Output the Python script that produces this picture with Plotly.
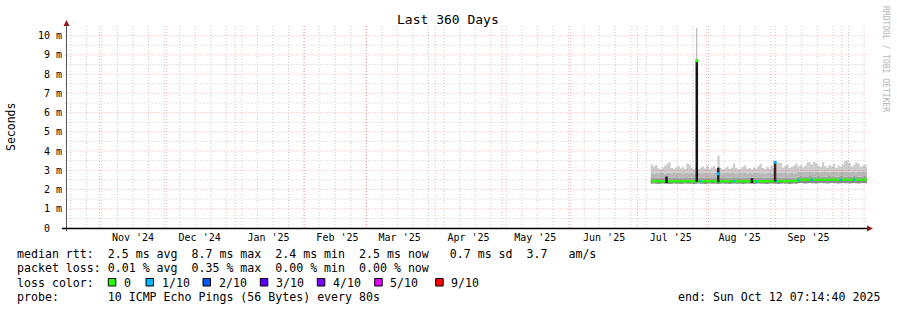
import pandas as pd
import plotly.graph_objects as go

# ---------------- data ----------------
START = "2024-10-17 07:14:40"
END = "2025-10-12 07:14:40"
FIRST_DAY = "2025-07-07"

month_labels = ["Nov '24", "Dec '24", "Jan '25", "Feb '25", "Mar '25", "Apr '25",
                "May '25", "Jun '25", "Jul '25", "Aug '25", "Sep '25"]
y_tick_values = [0, 1, 2, 3, 4, 5, 6, 7, 8, 9, 10]
y_tick_labels = ["0  ", "1 m", "2 m", "3 m", "4 m", "5 m", "6 m", "7 m", "8 m", "9 m", "10 m"]

# daily smoke percentiles (ms), Jul 7 .. Oct 12 2025
min_rtt = [2.30, 2.31, 2.30, 2.29, 2.30, 2.31, 2.30, 2.30, 2.29, 2.30,
           2.31, 2.30, 2.30, 2.29, 2.30, 2.31, 2.30, 2.30, 2.30, 2.29,
           2.30, 2.31, 2.30, 2.30, 2.29, 2.30, 2.31, 2.30, 2.30, 2.30,
           2.29, 2.30, 2.31, 2.30, 2.30, 2.29, 2.30, 2.31, 2.30, 2.30,
           2.30, 2.29, 2.30, 2.31, 2.30, 2.30, 2.29, 2.30, 2.31, 2.30,
           2.30, 2.30, 2.29, 2.30, 2.31, 2.30, 2.30, 2.29, 2.30, 2.31,
           2.30, 2.30, 2.29, 2.30, 2.31, 2.30, 2.33, 2.34, 2.33, 2.32,
           2.33, 2.34, 2.33, 2.33, 2.32, 2.33, 2.34, 2.33, 2.33, 2.32,
           2.33, 2.34, 2.33, 2.33, 2.32, 2.33, 2.34, 2.33, 2.33, 2.32,
           2.33, 2.34, 2.33, 2.32, 2.33, 2.34, 2.33, 2.33]
median_rtt = [2.43, 2.42, 2.43, 2.44, 2.42, 2.43, 2.42, 2.44, 2.43, 2.42,
              2.43, 2.44, 2.42, 2.43, 2.43, 2.42, 2.44, 2.43, 2.42, 2.43,
              2.44, 2.43, 2.42, 2.43, 2.44, 2.42, 2.43, 2.43, 2.44, 2.42,
              2.43, 2.42, 2.43, 2.44, 2.43, 2.42, 2.43, 2.44, 2.42, 2.43,
              2.43, 2.42, 2.44, 2.43, 2.42, 2.43, 2.44, 2.42, 2.43, 2.43,
              2.42, 2.44, 2.43, 2.42, 2.43, 2.44, 2.45, 2.43, 2.44, 2.43,
              2.42, 2.44, 2.43, 2.44, 2.43, 2.45, 2.50, 2.51, 2.50, 2.52,
              2.51, 2.50, 2.51, 2.52, 2.50, 2.51, 2.51, 2.50, 2.52, 2.51,
              2.50, 2.51, 2.52, 2.50, 2.51, 2.51, 2.50, 2.52, 2.51, 2.50,
              2.51, 2.52, 2.50, 2.51, 2.51, 2.50, 2.52, 2.51]
p_dark = [2.62, 2.60, 2.63, 2.61, 2.62, 2.64, 2.60, 2.62, 2.63, 2.61,
          2.62, 2.60, 2.63, 2.62, 2.61, 2.62, 2.64, 2.60, 2.62, 2.61,
          2.63, 2.62, 2.60, 2.62, 2.61, 2.63, 2.62, 2.60, 2.64, 2.62,
          2.61, 2.62, 2.60, 2.63, 2.62, 2.61, 2.62, 2.64, 2.60, 2.62,
          2.63, 2.61, 2.62, 2.60, 2.62, 2.63, 2.61, 2.62, 2.64, 2.60,
          2.62, 2.61, 2.63, 2.62, 2.60, 2.62, 2.64, 2.62, 2.61, 2.63,
          2.62, 2.60, 2.62, 2.63, 2.61, 2.62, 2.68, 2.70, 2.67, 2.69,
          2.68, 2.70, 2.69, 2.67, 2.68, 2.70, 2.69, 2.68, 2.67, 2.69,
          2.70, 2.68, 2.69, 2.67, 2.68, 2.70, 2.69, 2.68, 2.67, 2.69,
          2.68, 2.70, 2.69, 2.68, 2.67, 2.69, 2.70, 2.68]
p_mid = [2.86, 2.84, 2.88, 2.85, 2.86, 2.87, 2.84, 2.86, 2.88, 2.85,
         2.86, 2.85, 2.87, 2.86, 2.84, 2.86, 2.88, 2.85, 2.86, 2.84,
         2.87, 2.86, 2.85, 2.86, 2.88, 2.84, 2.86, 2.85, 2.87, 2.86,
         2.85, 2.86, 2.84, 2.87, 2.86, 2.85, 2.86, 2.88, 2.84, 2.86,
         2.86, 2.85, 2.87, 2.84, 2.86, 2.85, 2.86, 2.87, 2.88, 2.85,
         2.86, 2.84, 2.87, 2.86, 2.85, 2.86, 2.90, 2.88, 2.86, 2.87,
         2.86, 2.85, 2.87, 2.86, 2.84, 2.86, 2.91, 2.92, 2.90, 2.91,
         2.93, 2.91, 2.92, 2.90, 2.91, 2.92, 2.90, 2.93, 2.91, 2.92,
         2.90, 2.91, 2.92, 2.91, 2.90, 2.92, 2.91, 2.93, 2.92, 2.90,
         2.91, 2.92, 2.90, 2.91, 2.93, 2.91, 2.92, 2.90]
max_rtt = [3.30, 3.20, 3.28, 3.10, 3.05, 3.15, 3.25, 3.35, 3.42, 3.12,
           3.08, 3.15, 3.22, 3.10, 3.18, 3.05, 3.36, 3.30, 3.12, 3.05,
           3.10, 3.05, 3.15, 3.20, 3.10, 3.25, 3.08, 3.15, 3.22, 3.10,
           3.76, 3.12, 3.05, 3.10, 3.20, 3.08, 3.15, 3.35, 3.12, 3.05,
           3.10, 3.18, 3.25, 3.08, 3.12, 3.05, 3.15, 3.10, 3.22, 3.35,
           3.12, 3.08, 3.18, 3.10, 3.25, 3.12, 3.45, 3.38, 3.40, 3.15,
           3.22, 3.30, 3.12, 3.18, 3.25, 3.35, 3.20, 3.28, 3.15, 3.22,
           3.40, 3.42, 3.30, 3.45, 3.38, 3.25, 3.18, 3.40, 3.22, 3.15,
           3.28, 3.20, 3.35, 3.12, 3.25, 3.18, 3.30, 3.48, 3.52, 3.38,
           3.20, 3.28, 3.40, 3.35, 3.18, 3.25, 3.30, 3.20]
loss = [0, 0, 0, 0, 0, 0, 0, 0, 0, 0,
        0, 0, 0, 0, 0, 0, 0, 0, 0, 0,
        0, 0, 1, 0, 0, 0, 0, 0, 0, 0,
        1, 0, 0, 0, 0, 0, 0, 1, 0, 0,
        0, 0, 0, 0, 0, 0, 0, 1, 0, 0,
        0, 0, 0, 0, 0, 0, 1, 0, 0, 0,
        0, 0, 0, 0, 0, 0, 1, 0, 0, 0,
        0, 0, 1, 0, 0, 0, 0, 0, 0, 0,
        0, 0, 0, 0, 0, 1, 0, 0, 0, 0,
        0, 1, 0, 0, 0, 0, 0, 0]

# short high-latency events
spike_time = ["2025-07-14 02:00", "2025-07-27 17:00", "2025-08-06 09:00",
              "2025-08-21 13:00", "2025-08-31 22:00"]
spike_low = [2.34, 2.40, 2.38, 2.34, 2.42]
spike_high = [2.68, 8.70, 3.14, 2.60, 3.38]
spike_peak = [2.68, 10.40, 3.14, 2.60, 3.38]
spike_median = [None, 8.70, 2.82, None, 3.42]
spike_loss = [0, 0, 1, 0, 1]

legend_labels = ["0", "1/10", "2/10", "3/10", "4/10", "5/10", "9/10"]
legend_loss = [0, 1, 2, 3, 4, 5, 9]

stats_line1 = "median rtt:  2.5 ms avg  8.7 ms max  2.4 ms min  2.5 ms now   0.7 ms sd  3.7   am/s"
stats_line2 = "packet loss: 0.01 % avg  0.35 % max  0.00 % min  0.00 % now"
probe_text = "probe:       10 ICMP Echo Pings (56 Bytes) every 80s"
end_text = "end: Sun Oct 12 07:14:40 2025"

assert len(min_rtt) == len(median_rtt) == len(p_dark) == len(p_mid) == len(max_rtt) == len(loss)

# ---------------- style ----------------
FONT = "DejaVu Sans Mono"
LOSS_COLOR = {0: "#26ff00", 1: "#00b8ff", 2: "#0059ff", 3: "#5e00ff",
              4: "#7e00ff", 5: "#dd00ff", 9: "#ff0000"}
SPIKE_COLORS = ["#1a1a1a", "#141414", "#262626", "#1a1a1a", "#3a1c1c"]
C_BELOW, C_DARK, C_MID, C_LIGHT = "#8a8a8a", "#a0a0a0", "#b8b8b8", "#cdcdcd"
GRID_MAJOR = "rgba(255,0,0,0.32)"
GRID_MINOR = "rgba(128,128,128,0.40)"
DASH = "1px,2px"

W, H = 897, 310
PL, PR, PT, PB = 67, 867, 26, 228
PX_PER_MS = 19.23
Y_MAX = (PB - PT) / PX_PER_MS


def fx(px):
    return (px - PL) / (PR - PL)


def fy(py):
    return (PB - py) / (PB - PT)


def nb(s):
    return s.replace(" ", "\u00a0")


# ---------------- traces ----------------
days = list(pd.date_range(FIRST_DAY, periods=len(median_rtt), freq="D"))
x_step = days + [pd.Timestamp(END)]


def step(arr):
    return list(arr) + [arr[-1]]


fig = go.Figure()
fig.add_trace(go.Scatter(x=x_step, y=step(min_rtt), mode="lines", line=dict(width=0, shape="hv"),
                         hoverinfo="skip"))
for arr, col in [(median_rtt, C_BELOW), (p_dark, C_DARK), (p_mid, C_MID), (max_rtt, C_LIGHT)]:
    fig.add_trace(go.Scatter(x=x_step, y=step(arr), mode="lines", fill="tonexty", fillcolor=col,
                             line=dict(width=0, shape="hv", color=col), hoverinfo="skip"))

# median line, coloured by loss
fig.add_trace(go.Scatter(x=x_step, y=step(median_rtt), mode="lines",
                         line=dict(width=2.2, shape="hv", color=LOSS_COLOR[0]), hoverinfo="skip"))
for lv in sorted(set(loss)):
    if lv == 0:
        continue
    xs, ys = [], []
    for i, l in enumerate(loss):
        if l == lv:
            xs += [x_step[i], x_step[i + 1], None]
            ys += [median_rtt[i], median_rtt[i], None]
    fig.add_trace(go.Scatter(x=xs, y=ys, mode="lines", line=dict(width=2.2, color=LOSS_COLOR[lv]),
                             hoverinfo="skip"))

# spikes
for t, lo, hi, pk, md, ls, col in zip(spike_time, spike_low, spike_high, spike_peak,
                                      spike_median, spike_loss, SPIKE_COLORS):
    if pk > hi:
        fig.add_trace(go.Scatter(x=[t, t], y=[hi, pk], mode="lines",
                                 line=dict(width=1, color="#a8a8a8"), hoverinfo="skip"))
    fig.add_trace(go.Scatter(x=[t, t], y=[lo, hi], mode="lines",
                             line=dict(width=2.5, color=col), hoverinfo="skip"))
    if md is not None:
        fig.add_trace(go.Scatter(x=[t], y=[md], mode="markers",
                                 marker=dict(symbol="square", size=3, color=LOSS_COLOR[ls],
                                             line=dict(width=0)), hoverinfo="skip"))

# ---------------- grid / axes as shapes (drawn above the smoke, like rrdtool) ----------------
shapes = []
for k in range(1, 21):
    v = k * 0.5
    shapes.append(dict(type="line", xref="paper", yref="y", x0=fx(65.5), x1=1, y0=v, y1=v,
                       line=dict(color=GRID_MAJOR if k % 2 == 0 else GRID_MINOR, width=1, dash=DASH),
                       layer="above"))
month_starts = list(pd.date_range("2024-11-01", END, freq="MS"))
week_lines = list(pd.date_range("2024-10-19", END, freq="7D"))
for d in week_lines:
    shapes.append(dict(type="line", xref="x", yref="paper", x0=d, x1=d, y0=0, y1=1,
                       line=dict(color=GRID_MINOR, width=1, dash=DASH), layer="above"))
for d in month_starts:
    shapes.append(dict(type="line", xref="x", yref="paper", x0=d, x1=d, y0=0, y1=1,
                       line=dict(color=GRID_MAJOR, width=1, dash=DASH), layer="above"))
# axes
shapes.append(dict(type="line", xref="paper", yref="paper", x0=fx(66.5), x1=fx(66.5), y0=fy(231), y1=fy(24),
                   line=dict(color="#555555", width=1), layer="above"))
shapes.append(dict(type="line", xref="paper", yref="paper", x0=fx(62), x1=fx(868), y0=fy(228.5), y1=fy(228.5),
                   line=dict(color="#000000", width=1.3), layer="above"))
# arrows
shapes.append(dict(type="path", xref="paper", yref="paper",
                   path=f"M {fx(63.5)},{fy(26)} L {fx(69.5)},{fy(26)} L {fx(66.5)},{fy(20)} Z",
                   fillcolor="#8b1a1a", line=dict(width=0), layer="above"))
shapes.append(dict(type="path", xref="paper", yref="paper",
                   path=f"M {fx(867)},{fy(225.5)} L {fx(867)},{fy(231.5)} L {fx(873)},{fy(228.5)} Z",
                   fillcolor="#8b1a1a", line=dict(width=0), layer="above"))

# ---------------- annotations ----------------
ann = []
ann.append(dict(xref="paper", yref="paper", x=fx(448), y=fy(19.5), text="Last 360 Days",
                showarrow=False, xanchor="center", yanchor="middle", borderpad=0,
                font=dict(family=FONT, size=13, color="#000000")))
ann.append(dict(xref="paper", yref="paper", x=fx(11), y=fy(127), text="Seconds", textangle=-90,
                showarrow=False, xanchor="center", yanchor="middle", borderpad=0,
                font=dict(family=FONT, size=11.5, color="#000000")))
ann.append(dict(xref="paper", yref="paper", x=fx(886), y=fy(59), text=nb("RRDTOOL / TOBI OETIKER"),
                textangle=90, showarrow=False, xanchor="center", yanchor="middle", borderpad=0,
                font=dict(family=FONT, size=8, color="#b4b4b4")))

LEG = dict(family=FONT, size=11.6, color="#000000")
for txt, py in [(stats_line1, 254.3), (stats_line2, 268.3), ("loss color:", 282.5), (probe_text, 296.7)]:
    ann.append(dict(xref="paper", yref="paper", x=fx(15.5), y=fy(py), text=nb(txt), showarrow=False,
                    xanchor="left", yanchor="middle", borderpad=0, font=LEG))
ann.append(dict(xref="paper", yref="paper", x=fx(881), y=fy(296.7), text=nb(end_text), showarrow=False,
                xanchor="right", yanchor="middle", borderpad=0, font=LEG))

legend_box_px = [108.3, 146, 203, 260.3, 317.3, 374.7, 435.7]
for bx, lab, lv in zip(legend_box_px, legend_labels, legend_loss):
    shapes.append(dict(type="rect", xref="paper", yref="paper", x0=fx(bx), x1=fx(bx + 7.5),
                       y0=fy(286), y1=fy(278.5), fillcolor=LOSS_COLOR[lv],
                       line=dict(color="#000000", width=1), layer="above"))
    ann.append(dict(xref="paper", yref="paper", x=fx(bx + 14.5), y=fy(282.5), text=nb(lab),
                    showarrow=False, xanchor="left", yanchor="middle", borderpad=0, font=LEG))

# ---------------- layout ----------------
label_pos = [d + pd.Timedelta(days=15) for d in month_starts[:len(month_labels)]]

fig.update_layout(
    width=W, height=H,
    margin=dict(l=PL, r=W - PR, t=PT, b=H - PB, pad=0),
    paper_bgcolor="#ffffff", plot_bgcolor="#ffffff",
    showlegend=False,
    shapes=shapes, annotations=ann,
    xaxis=dict(type="date", range=[START, END], tickvals=label_pos, ticktext=month_labels,
               showgrid=False, zeroline=False, showline=False, ticks="", automargin=False,
               ticklabelstandoff=2,
               tickfont=dict(family=FONT, size=10, color="#000000"), fixedrange=True),
    yaxis=dict(range=[0, Y_MAX], tickvals=y_tick_values, ticktext=[nb(s) for s in y_tick_labels],
               showgrid=False, zeroline=False, showline=False, ticks="", automargin=False,
               ticklabelstandoff=4,
               tickfont=dict(family=FONT, size=10, color="#000000"), fixedrange=True),
)

fig.write_html("out.html")
